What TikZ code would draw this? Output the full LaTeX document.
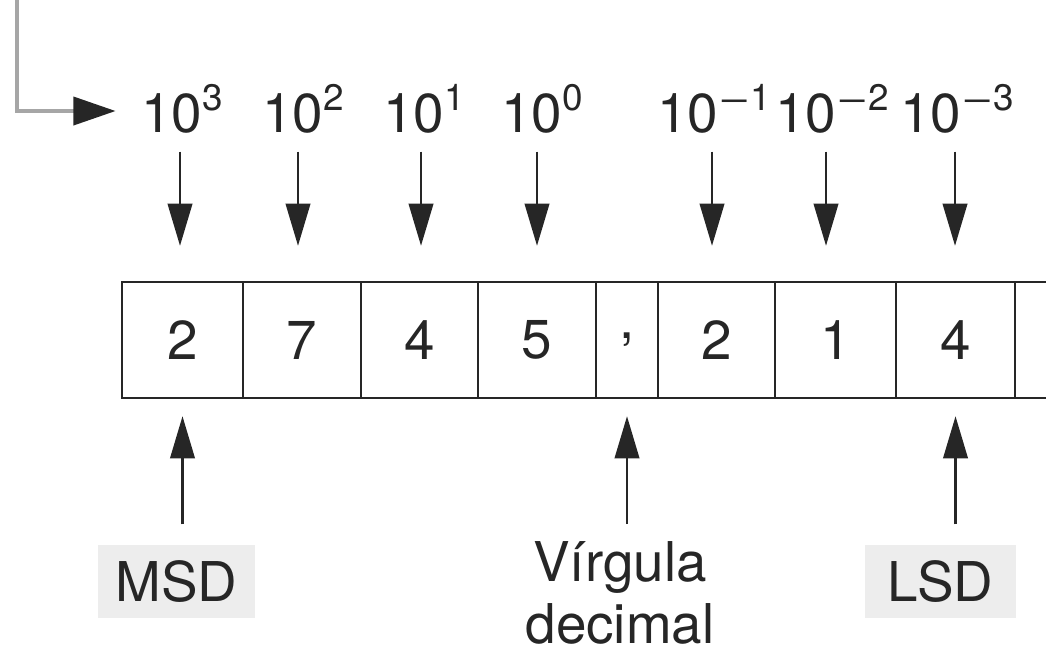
\documentclass[tikz,border=0pt]{standalone}
\usepackage{fontspec}
\usepackage{graphicx}
\setmainfont{TeX Gyre Heros}
\usetikzlibrary{arrows.meta}
\newcommand\tenpow[1]{10\raisebox{6pt}{\fontsize{10.5}{12}\selectfont#1}}
\newcommand\supminus{\scalebox{1.5}[1]{−}}
\begin{document}
\begin{tikzpicture}[
  font=\fontsize{15.6}{17.6}\selectfont, text=black!85,
  cell/.style={draw=black!85, line width=0.7pt, minimum height=1.16cm, inner sep=0pt},
  tag/.style={fill=black!7, minimum width=#1, minimum height=0.73cm, inner sep=0pt},
  pointer/.style={draw=black!85, line width=0.6pt, -{Triangle[length=12pt,width=7pt]}}
]
\useasboundingbox (0,0) rectangle (10.46,6.51);
\foreach \x/\l/\r/\t in {1/1.22/2.43/2,2/2.43/3.61/7,3/3.61/4.78/4,4/4.78/5.96/5,
    5/5.96/6.58/{,},6/6.58/7.75/2,7/7.75/8.96/1,8/8.96/10.15/4,9/10.15/11.34/} {
  \node[cell, minimum width={(\r-\l)*1cm}] (C\x) at ({(\l+\r)/2},3.11) {\t};
}
\foreach \n/\x/\e in {P3/1.82/3,P2/3.03/2,P1/4.24/1,P0/5.42/0,
    M1/7.14/\supminus1,M2/8.32/\supminus2,M3/9.57/\supminus3} {
  \node[anchor=base, inner sep=0pt] (\n) at (\x,5.19) {\tenpow{\e}};
}
\foreach \n/\x in {P3/1.80,P2/2.98,P1/4.21,P0/5.37,M1/7.12,M2/8.26,M3/9.55} {
  \coordinate (\n top) at (\x,0 |- \n.south);
  \draw[pointer, shorten <=0.18cm, shorten >=0.35cm] (\n top) -- (\n top |- C1.north);
}
\coordinate (feed) at (0.17,6.51);
\draw[black!35, line width=1pt, shorten >=0.25cm,
  -{Triangle[length=12pt,width=8pt,color=black!85]}] (feed) |- (P3.west |- 0,5.40);
\node[tag=1.57cm] (msd) at (1.765,0.695) {MSD};
\node[tag=1.51cm] (lsd) at (9.405,0.695) {LSD};
\node[align=center, anchor=north, inner sep=0pt] (vd) at (6.20,1.10) {Vírgula\\decimal};
\draw[pointer, shorten <=0.2cm, shorten >=0.17cm] (C1.south |- msd.north) -- (C1.south);
\draw[pointer, shorten <=0.17cm, shorten >=0.17cm] (C5.south |- vd.north) -- (C5.south);
\draw[pointer, shorten <=0.2cm, shorten >=0.17cm] (C8.south |- lsd.north) -- (C8.south);
\end{tikzpicture}
\end{document}
